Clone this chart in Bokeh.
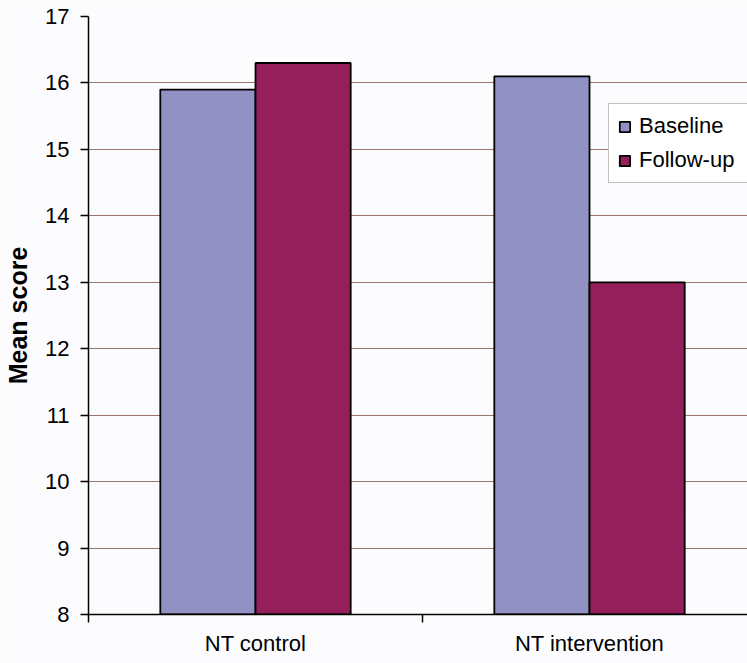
from bokeh.plotting import figure
from bokeh.models import (ColumnDataSource, Range1d, FixedTicker, Legend, LegendItem)
from bokeh.embed import file_html
from bokeh.resources import INLINE

# Mean scores per group, before and after
categories = ["NT control", "NT intervention"]
baseline = [15.9, 16.1]
follow_up = [16.3, 13.0]
y_ticks = [8, 9, 10, 11, 12, 13, 14, 15, 16, 17]

BASE_COLOR = "#9191c4"
FOLLOW_COLOR = "#951f5b"
BG = "#fcfcfe"
FONT = "Liberation Sans"

bar_w = 0.285
centers = [i + 0.5 for i in range(len(categories))]

src_base = ColumnDataSource(dict(x=[c - bar_w / 2 for c in centers], top=baseline))
src_follow = ColumnDataSource(dict(x=[c + bar_w / 2 for c in centers], top=follow_up))

p = figure(width=747, height=663, output_backend="svg", toolbar_location=None,
           x_range=Range1d(0, 1.973), y_range=Range1d(y_ticks[0], y_ticks[-1]),
           min_border_left=88, min_border_right=0, min_border_top=16,
           min_border_bottom=49)
p.background_fill_color = BG
p.border_fill_color = BG
p.outline_line_color = None

r_base = p.vbar(x="x", top="top", bottom=y_ticks[0], width=bar_w, source=src_base,
                fill_color=BASE_COLOR, line_color="black", line_width=1.8)
r_follow = p.vbar(x="x", top="top", bottom=y_ticks[0], width=bar_w, source=src_follow,
                  fill_color=FOLLOW_COLOR, line_color="black", line_width=1.8)

# y axis
p.yaxis.ticker = FixedTicker(ticks=y_ticks)
p.yaxis.axis_label = "Mean score"
p.yaxis.axis_label_text_font = FONT
p.yaxis.axis_label_text_font_style = "bold"
p.yaxis.axis_label_text_font_size = "25px"
p.yaxis.axis_label_text_color = "black"
p.yaxis.axis_label_standoff = 10
p.yaxis.major_label_text_font = FONT
p.yaxis.major_label_text_font_size = "22px"
p.yaxis.major_label_text_color = "black"
p.yaxis.major_label_standoff = 11
p.yaxis.major_tick_out = 8
p.yaxis.major_tick_in = 0
p.yaxis.minor_tick_line_color = None
p.yaxis.axis_line_color = "black"
p.yaxis.axis_line_width = 1.5
p.yaxis.major_tick_line_width = 1.5

# x axis: labels at category centres, separator ticks between categories
p.xaxis.ticker = FixedTicker(ticks=centers, minor_ticks=[0, 1, 2])
p.xaxis.major_label_overrides = {c: name for c, name in zip(centers, categories)}
p.xaxis.major_label_text_font = FONT
p.xaxis.major_label_text_font_size = "22px"
p.xaxis.major_label_text_color = "black"
p.xaxis.major_label_standoff = 8
p.xaxis.major_tick_line_color = None
p.xaxis.minor_tick_out = 8
p.xaxis.minor_tick_in = 0
p.xaxis.minor_tick_line_color = "black"
p.xaxis.minor_tick_line_width = 1.5
p.xaxis.axis_line_color = "black"
p.xaxis.axis_line_width = 1.5

p.xgrid.grid_line_color = None
p.ygrid.grid_line_color = "#9a7468"
p.ygrid.grid_line_width = 1

legend = Legend(items=[LegendItem(label="Baseline", renderers=[r_base]),
                       LegendItem(label="Follow-up", renderers=[r_follow])],
                location=(520, 431))
legend.label_text_font = FONT
legend.label_text_font_size = "22px"
legend.label_text_color = "black"
legend.glyph_width = 13
legend.glyph_height = 13
legend.label_standoff = 8
legend.label_height = 22
legend.label_width = 115
legend.spacing = 8
legend.padding = 9
legend.margin = 0
legend.border_line_color = "#8c7f7c"
legend.border_line_width = 1
legend.background_fill_color = "white"
legend.background_fill_alpha = 1
p.add_layout(legend, "center")

open("out.html", "w").write(file_html(p, INLINE))
